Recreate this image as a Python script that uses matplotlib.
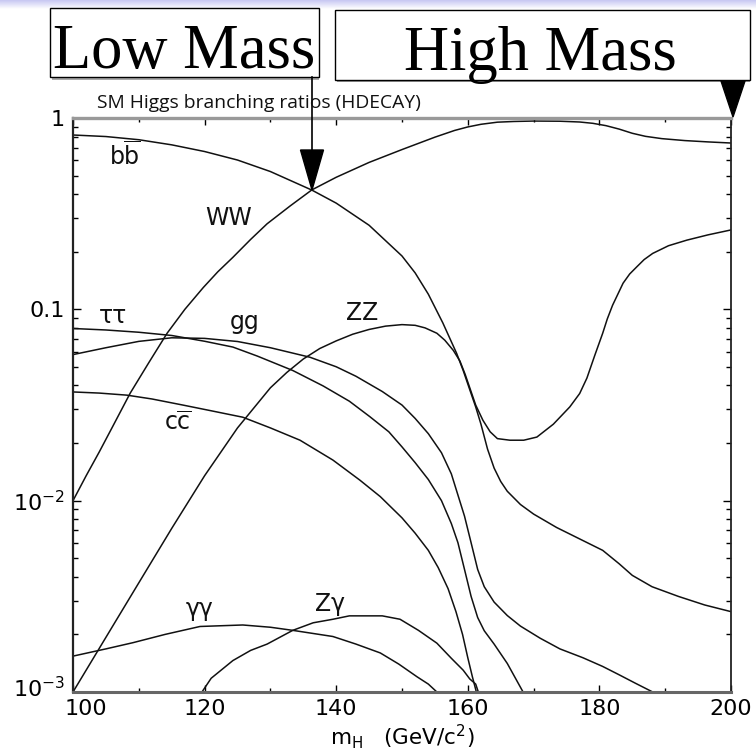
import numpy as np
import matplotlib
matplotlib.use('Agg')
import matplotlib.pyplot as plt
import matplotlib.transforms as mtransforms
from matplotlib.patches import Rectangle, Polygon
from matplotlib.ticker import FixedLocator, NullFormatter, LogLocator

plt.rcParams['font.family'] = ['DejaVu Sans']
plt.rcParams['mathtext.fontset'] = 'dejavusans'

# ---------------- data ----------------
m_bb = [100, 105, 110, 115, 120, 125, 130, 136.3, 140, 145, 150, 152, 154, 156.2, 158.3, 159.3,
        160.3, 161.2, 162, 163, 164, 165, 166, 168, 170, 173.5, 177, 180.5, 183, 185, 188, 192, 196, 200]
br_bb = [0.815, 0.80, 0.77, 0.724, 0.668, 0.603, 0.525, 0.42, 0.359, 0.275, 0.19, 0.155, 0.12, 0.085, 0.0589, 0.0479,
         0.038, 0.0309, 0.0251, 0.0186, 0.0148, 0.0126, 0.0112, 0.00955, 0.00851, 0.00724, 0.00631, 0.0055, 0.00468,
         0.00407, 0.00355, 0.00316, 0.00285, 0.00263]

m_ww = [100, 102, 104, 106, 108.7, 111.5, 114.3, 117, 119.8, 122, 124.3, 127, 129.5, 133, 136.3, 140, 145,
        150, 155, 158, 160, 162, 164.5, 167, 170, 174, 177, 179, 181, 183, 185, 187, 189.5, 193, 196.5, 200]
br_ww = [0.0100, 0.0135, 0.0180, 0.0243, 0.0365, 0.0525, 0.075, 0.100, 0.130, 0.157, 0.187, 0.232, 0.280, 0.347,
         0.421, 0.490, 0.586, 0.684, 0.794, 0.861, 0.898, 0.927, 0.951, 0.959, 0.964, 0.962, 0.953, 0.938, 0.912,
         0.875, 0.832, 0.802, 0.780, 0.762, 0.750, 0.740]

m_zz = [100, 105, 110, 115, 120, 125, 130, 132.5, 135, 137.5, 140, 142.5, 145, 147.5, 150, 152, 153.5, 155.3,
        156.5, 157.8, 158.8, 159.6, 160.3, 161.2, 162.3, 163.4, 164.5, 166.4, 168.5, 170.5, 173, 175.5, 177,
        178.1, 179.3, 180.5, 181.2, 182, 183.6, 184.6, 185.7, 186.8, 188.1, 190.5, 193.3, 196.5, 200]
br_zz = [0.00100, 0.00193, 0.00372, 0.00716, 0.0135, 0.0240, 0.0389, 0.0468, 0.0550, 0.0624, 0.0684, 0.0741,
         0.0785, 0.0817, 0.0832, 0.0825, 0.0800, 0.0750, 0.0690, 0.0610, 0.0537, 0.0457, 0.0389, 0.0316, 0.0263,
         0.0229, 0.0211, 0.0207, 0.0207, 0.0215, 0.0251, 0.0309, 0.0363, 0.0437, 0.0575, 0.075, 0.0891, 0.105,
         0.137, 0.153, 0.167, 0.182, 0.196, 0.215, 0.230, 0.245, 0.260]

m_tt = [100, 105, 110, 115, 120, 124.3, 128, 133.4, 138, 142, 145.1, 148, 150, 152, 154, 156, 157.5, 158.5,
        159.5, 160.5, 161.5, 162.5, 164, 166, 168.4]
br_tt = [0.0794, 0.078, 0.0759, 0.073, 0.0681, 0.0635, 0.057, 0.0479, 0.0398, 0.0331, 0.0275, 0.0229, 0.0191,
         0.0158, 0.0129, 0.0100, 0.00759, 0.00603, 0.00437, 0.00316, 0.00245, 0.00209, 0.00178, 0.00141, 0.0010]

m_gg = [100, 105, 110, 115, 120, 125, 130, 136, 140, 143, 147, 150, 152, 154, 156, 157.5, 158.5, 159.5, 160.5,
        161.5, 162.5, 164, 166, 168, 171, 174, 177.5, 180.5, 183, 185.5, 188.1]
br_gg = [0.058, 0.063, 0.068, 0.071, 0.0705, 0.0679, 0.063, 0.0562, 0.0501, 0.0447, 0.0372, 0.0316, 0.0269,
         0.0224, 0.0178, 0.0138, 0.0107, 0.0083, 0.00603, 0.00437, 0.00355, 0.00295, 0.00251, 0.00221, 0.00191,
         0.00168, 0.00151, 0.00136, 0.00123, 0.00111, 0.00100]

m_cc = [100, 104, 108.2, 112, 116.7, 121, 125.8, 130, 134.5, 139.5, 143.6, 146.7, 150, 152, 154, 155.5, 157,
        158.2, 159.2, 160, 160.7, 161.3]
br_cc = [0.037, 0.0365, 0.0356, 0.034, 0.0316, 0.0295, 0.0273, 0.024, 0.0207, 0.0163, 0.0128, 0.0105, 0.00813,
         0.00676, 0.0055, 0.00447, 0.00347, 0.00263, 0.0020, 0.00151, 0.0012, 0.0010]

m_aa = [100, 105, 109.1, 114, 119.3, 125.8, 130, 133.4, 139.5, 143, 146.7, 149.5, 152.3, 154, 155.3]
br_aa = [0.00154, 0.00168, 0.00181, 0.0020, 0.0022, 0.00224, 0.00218, 0.0021, 0.00195, 0.00178, 0.0016, 0.0014,
         0.0012, 0.0011, 0.0010]

m_za = [119.6, 121, 124.3, 127, 129.5, 133.4, 136.5, 139.5, 142, 144.7, 147, 149.7, 152.5, 155.3, 157.5,
        159.3, 160.3, 161.2, 161.6]
br_za = [0.0010, 0.00118, 0.00146, 0.00165, 0.00178, 0.0021, 0.0023, 0.0024, 0.0025, 0.0025, 0.0025, 0.0024,
         0.0021, 0.0018, 0.0015, 0.0013, 0.00117, 0.0011, 0.0010]

x_ticks = [100, 120, 140, 160, 180, 200]
x_ticklabels = ['100', '120', '140', '160', '180', '200']
y_ticks = [1e-3, 1e-2, 0.1, 1]
y_ticklabels = [r'$10^{-3}$', r'$10^{-2}$', '0.1', '1']

labels = [r'b$\overline{\mathrm{b}}$', 'WW', 'ττ', 'gg', 'ZZ', r'c$\overline{\mathrm{c}}$', 'γγ', 'Zγ']
label_m = [107.9, 123.6, 106.1, 126.1, 143.9, 116.0, 119.3, 139.0]
label_br = [0.64, 0.30, 0.092, 0.086, 0.0955, 0.0255, 0.0027, 0.0029]

# ---------------- figure ----------------
W, H = 756, 752
fig = plt.figure(figsize=(W / 100, H / 100), dpi=100)


def fx(px):
    return px / W


def fy(py):
    return 1 - py / H


# top gradient band
gax = fig.add_axes([0, fy(9), 1, 9 / H])
grad = np.linspace(0, 1, 50)[:, None]
c0 = np.array([0.78, 0.78, 0.95])
c1 = np.array([1.0, 1.0, 1.0])
img = c0[None, None, :] * (1 - grad[:, :, None]) + c1[None, None, :] * grad[:, :, None]
gax.imshow(np.repeat(img, 2, axis=1), aspect='auto', extent=[0, 1, 0, 1], origin='upper')
gax.axis('off')

ax = fig.add_axes([fx(73), fy(692), (731 - 73) / W, (692 - 118) / H])
curves = [(m_bb, br_bb), (m_ww, br_ww), (m_zz, br_zz), (m_tt, br_tt), (m_gg, br_gg),
          (m_cc, br_cc), (m_aa, br_aa), (m_za, br_za)]
for mm, bb in curves:
    ax.plot(mm, bb, color='#111111', lw=1.1, solid_capstyle='round', solid_joinstyle='round')

ax.set_yscale('log')
ax.set_xlim(100, 200)
ax.set_ylim(1e-3, 1)

ax.xaxis.set_major_locator(FixedLocator(x_ticks))
ax.set_xticklabels(x_ticklabels)
ax.xaxis.set_minor_locator(FixedLocator([110, 130, 150, 170, 190]))
ax.yaxis.set_major_locator(FixedLocator(y_ticks))
ax.set_yticklabels(y_ticklabels)
ax.yaxis.set_minor_locator(LogLocator(base=10, subs=np.arange(2, 10)))
ax.yaxis.set_minor_formatter(NullFormatter())

ax.tick_params(axis='both', which='both', direction='in', top=True, right=True, color='black')
ax.tick_params(axis='x', which='major', length=5, width=1.0, labelsize=16, pad=5)
ax.tick_params(axis='x', which='minor', length=3, width=1.0)
ax.tick_params(axis='y', which='major', length=6, width=1.0, labelsize=16, pad=6)
ax.tick_params(axis='y', which='minor', length=3.5, width=1.0)

ax.spines['left'].set_linewidth(1.6)
ax.spines['left'].set_color('#222222')
ax.spines['right'].set_linewidth(1.3)
ax.spines['right'].set_color('#222222')
ax.spines['top'].set_linewidth(2.4)
ax.spines['top'].set_color('#999999')
ax.spines['bottom'].set_linewidth(2.2)
ax.spines['bottom'].set_color('#666666')

for t, mm, bb in zip(labels, label_m, label_br):
    ax.text(mm, bb, t, ha='center', va='center', fontsize=17, color='#111111')

ax.set_xlabel(r'm$_{\mathrm{H}}$   (GeV/c$^{2}$)', fontsize=15.5, labelpad=2)

# title, fitted to the measured width
title = fig.text(fx(97), fy(108), 'SM Higgs branching ratios (HDECAY)', fontsize=14, ha='left',
                 va='baseline', color='#111111', family=['Open Sans', 'DejaVu Sans'])
fig.canvas.draw()
wpx = title.get_window_extent().width
title.set_fontsize(14 * 324 / wpx)

# nudge the corner tick labels apart, as in the reference
xl0 = ax.get_xticklabels()[0]
xl0.set_transform(xl0.get_transform() + mtransforms.ScaledTranslation(13 / 100, 0, fig.dpi_scale_trans))
yl0 = ax.get_yticklabels()[0]
yl0.set_transform(yl0.get_transform() + mtransforms.ScaledTranslation(0, 5 / 100, fig.dpi_scale_trans))

# boxes
serif = ['Liberation Serif', 'DejaVu Serif']
fig.add_artist(Rectangle((fx(52), fy(80)), (319 - 52) / W, 3 / H, transform=fig.transFigure,
                         facecolor='#aaaaaa', edgecolor='none'))
fig.add_artist(Rectangle((fx(50), fy(77)), (319 - 50) / W, (77 - 8) / H, transform=fig.transFigure,
                         facecolor='white', edgecolor='black', lw=1.0))
fig.text(fx(184.5), fy(68), 'Low Mass', family=serif, fontsize=45, ha='center', va='baseline')

fig.add_artist(Rectangle((fx(337), fy(82)), (750 - 337) / W, 3 / H, transform=fig.transFigure,
                         facecolor='#999999', edgecolor='none'))
fig.add_artist(Rectangle((fx(335), fy(80)), (750 - 335) / W, (80 - 10) / H, transform=fig.transFigure,
                         facecolor='white', edgecolor='black', lw=1.0))
fig.text(fx(540), fy(70), 'High Mass', family=serif, fontsize=45, ha='center', va='baseline')

# arrows
fig.add_artist(plt.Line2D([fx(312), fx(312)], [fy(77), fy(152)], transform=fig.transFigure,
                          color='black', lw=1.2))
fig.add_artist(Polygon([(fx(300.5), fy(150)), (fx(323.5), fy(150)), (fx(312), fy(190))], closed=True,
                       transform=fig.transFigure, facecolor='black', edgecolor='black'))
fig.add_artist(Polygon([(fx(721), fy(81)), (fx(745), fy(81)), (fx(733), fy(117))], closed=True,
                       transform=fig.transFigure, facecolor='black', edgecolor='black'))

fig.savefig('out.png', dpi=100, facecolor='white')
